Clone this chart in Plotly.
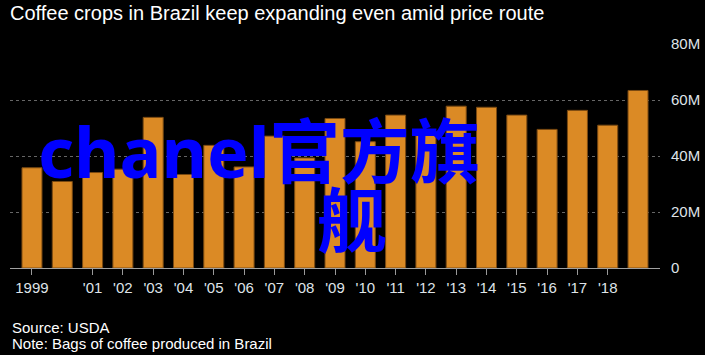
import plotly.graph_objects as go

years = list(range(1999, 2020))
bags_millions = [35.8, 30.9, 34.1, 35.3, 53.8, 33.4, 43.8, 36.1, 47.1, 39.3,
                 53.4, 45.1, 54.6, 48.1, 57.8, 57.4, 54.6, 49.5, 56.3, 51.0, 63.4]
tick_years = [1999] + list(range(2001, 2019))
tick_labels = ["1999"] + ["'%02d" % (y % 100) for y in range(2001, 2019)]
y_ticks = [0, 20, 40, 60, 80]
y_tick_labels = ["0", "20M", "40M", "60M", "80M"]

title_text = "Coffee crops in Brazil keep expanding even amid price route"
source_text = "Source: USDA"
note_text = "Note: Bags of coffee produced in Brazil"
overlay_line1 = "chanel官方旗"
overlay_line2 = "舰"

W, H = 705, 355
L, R, T, B = 10, 45, 44, 87

fig = go.Figure(go.Bar(
    x=years, y=bags_millions,
    marker=dict(color="#DB8A25", line=dict(color="#7a4a12", width=1)),
    width=0.66,
))

font_main = "Liberation Sans, Arial, sans-serif"

fig.update_layout(
    width=W, height=H,
    margin=dict(l=L, r=R, t=T, b=B, autoexpand=False),
    paper_bgcolor="#000000",
    plot_bgcolor="#000000",
    showlegend=False,
    font=dict(family=font_main, color="#dfe3e8", size=15),
    title=dict(text=title_text, x=10 / W, xanchor="left", xref="container",
               y=1 - 13 / H, yanchor="middle", yref="container",
               font=dict(family=font_main, size=20, color="#ffffff")),
    xaxis=dict(
        range=[1999 - 0.725, 2019 + 0.725], automargin=False,
        tickmode="array", tickvals=tick_years, ticktext=tick_labels,
        ticks="outside", ticklen=6, tickcolor="#9a9a9a", tickwidth=1,
        showline=True, linecolor="#a0a0a0", linewidth=1,
        showgrid=False, zeroline=False,
        tickfont=dict(family=font_main, size=15, color="#dfe3e8"),
    ),
    yaxis=dict(
        range=[0, 80], side="right", automargin=False,
        tickmode="array", tickvals=y_ticks, ticktext=y_tick_labels,
        showgrid=True, gridcolor="#666666", griddash="dot", gridwidth=1,
        zeroline=False, showline=False, ticks="",
        ticklabelstandoff=10,
        tickfont=dict(family=font_main, size=15, color="#dfe3e8"),
    ),
)

fig.add_annotation(text=source_text, xref="paper", yref="paper",
                   x=0, y=-(327 - 268) / 224, xanchor="left", yanchor="middle",
                   showarrow=False, font=dict(family=font_main, size=15, color="#ffffff"))
fig.add_annotation(text=note_text, xref="paper", yref="paper",
                   x=0, y=-(343 - 268) / 224, xanchor="left", yanchor="middle",
                   showarrow=False, font=dict(family=font_main, size=15, color="#ffffff"))

overlay_font = dict(family="Noto Sans, Noto Sans CJK SC, sans-serif", size=70,
                    color="#0000ff", weight="bold")
fig.add_annotation(text=overlay_line1, xref="paper", yref="paper",
                   x=(259 - L) / 650, y=(268 - 151) / 224, xanchor="center", yanchor="middle",
                   showarrow=False, font=overlay_font)
fig.add_annotation(text=overlay_line2, xref="paper", yref="paper",
                   x=(352 - L) / 650, y=(268 - 220) / 224, xanchor="center", yanchor="middle",
                   showarrow=False, font=overlay_font)

fig.write_html("out.html", config={"displayModeBar": False},
               post_script="document.body.style.margin='0';document.body.style.background='#000';")
